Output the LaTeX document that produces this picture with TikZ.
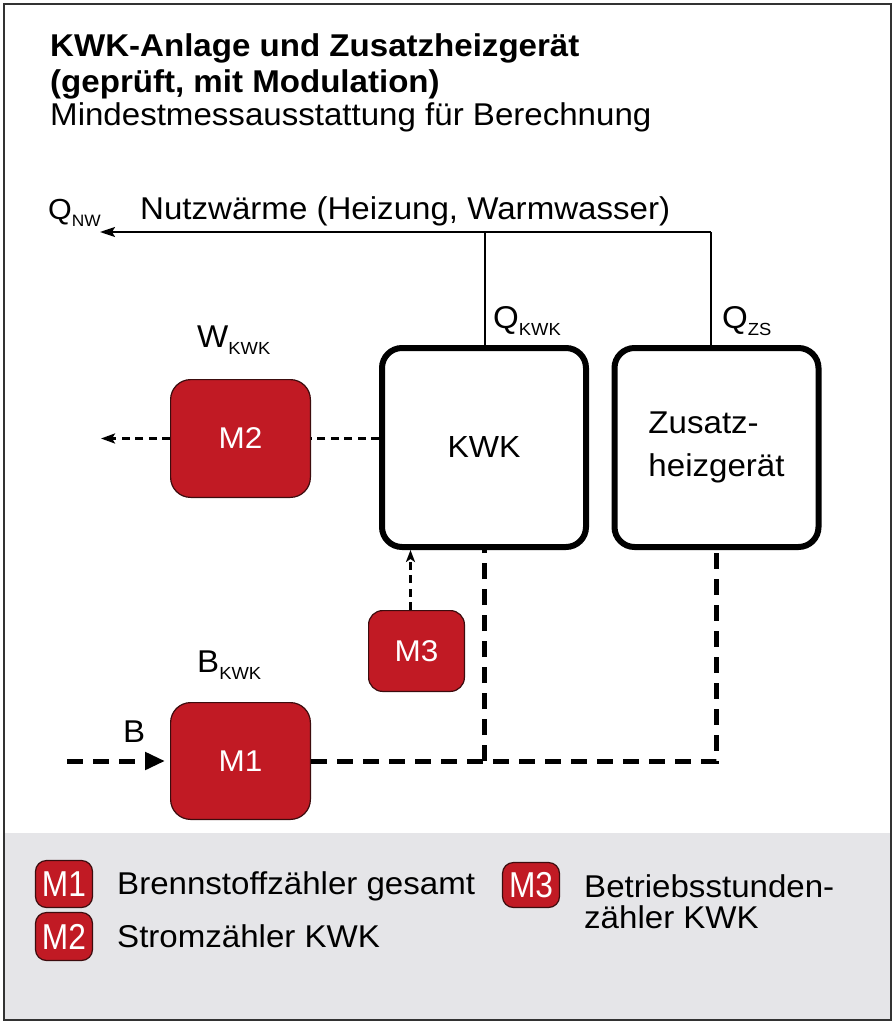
\documentclass[tikz,border=0pt]{standalone}
\usepackage{fontspec}
\setmainfont{Liberation Sans}[FakeStretch=1.05]
\newfontfamily\badgefont{Liberation Sans}[FakeStretch=0.88]
\usetikzlibrary{arrows.meta}
\definecolor{mred}{RGB}{193,26,36}
\definecolor{mborder}{RGB}{60,12,14}
\definecolor{legbg}{RGB}{229,229,232}
\definecolor{framecol}{RGB}{50,50,50}
\newcommand{\fsz}[1]{\fontsize{#1}{#1}\selectfont}
\newcommand{\lsub}[1]{\raisebox{-7pt}{\fsz{17.5}#1}}
\begin{document}
\begin{tikzpicture}[x=1pt,y=-1pt,
  txt/.style={inner sep=0pt, anchor=base west, font=\fsz{31.5}},
  ttl/.style={inner sep=0pt, anchor=base west, font=\bfseries\fsz{31.5}},
  meter/.style={draw=mborder, line width=1.2pt, fill=mred, rounded corners=20pt,
    text=white, font=\fsz{30}, inner sep=0pt},
  badge/.style={draw=mborder, line width=1.2pt, fill=mred, rounded corners=11pt,
    text=white, font=\badgefont\fsz{36}, inner sep=0pt, minimum width=57pt},
  unit/.style={draw=black, line width=6pt, rounded corners=20pt, fill=white,
    minimum width=204pt, minimum height=199pt, inner sep=0pt, font=\fsz{30.5}},
  heat/.style={line width=2pt, draw=black},
  thinflow/.style={line width=2.5pt, dash pattern=on 8pt off 5.5pt},
  fuel/.style={line width=5pt, dash pattern=on 16pt off 10pt},
]
\useasboundingbox (0,0) rectangle (895,1024);
% frame and legend background
\fill[legbg] (4,833) rectangle (891,1020);
\draw[framecol, line width=2.2pt] (4,4) rectangle (891,1020);

% title
\node[ttl] (t1) at (50,57) {KWK-Anlage und Zusatzheizgerät};
\node[ttl] (t2) at (50,93) {(geprüft, mit Modulation)};
\node[txt] (t3) at (50,126) {Mindestmessausstattung für Berechnung};

% units
\node[unit] (kwk) at (484,447.5) {KWK};
\node[unit, align=left, font=\fontsize{31.5}{43}\selectfont] (zs) at (716.5,447.5) {Zusatz-\\heizgerät};

% meters
\node[meter, minimum width=139.8pt, minimum height=117.8pt] (m2) at (240.5,438.5) {M2};
\node[meter, minimum width=95.8pt, minimum height=80.8pt, rounded corners=14pt] (m3) at (416.5,651) {M3};
\node[meter, minimum width=139.8pt, minimum height=116.8pt] (m1) at (240.5,761) {M1};

% labels
\node[txt, font=\fsz{29}] (qnw) at (48,219) {Q\raisebox{-7pt}{\fsz{16.5}NW}};
\node[txt] (nutz) at (140,219) {Nutzwärme (Heizung, Warmwasser)};
\node[txt] (qkwk) at (493,328) {Q\lsub{KWK}};
\node[txt] (qzs) at (722,328) {Q\lsub{ZS}};
\node[txt] (wkwk) at (197,347) {W\lsub{KWK}};
\node[txt] (bkwk) at (197,672) {B\lsub{KWK}};
\node[txt] (blab) at (123,742) {B};

% heat flows
\coordinate (jK) at (485,232);
\coordinate (jZ) at (711,232);
\coordinate (nwtip) at (100,232);
\draw[heat,-{Stealth[length=15pt,width=10pt,inset=3pt]}] (jZ) -- (nwtip);
\draw[heat] (jK) -- (jK |- kwk.north);
\draw[heat] (jZ) -- (jZ |- zs.north);

% electricity and operating hours
\coordinate (wtip) at (101,438.5);
\draw[thinflow] (kwk.west |- m2.east) -- (m2.east);
\draw[thinflow,-{Stealth[length=14pt,width=10pt,inset=3pt]}] (m2.west) -- (wtip);
\draw[thinflow,-{Stealth[length=12pt,width=9pt,inset=3pt]}] ([xshift=-6pt]m3.north) -- ([xshift=-6pt]m3.north |- kwk.south);

% fuel
\coordinate (bstart) at (67,761);
\draw[fuel,-{Triangle[length=20pt,width=17pt]}] (bstart) -- ([xshift=-5pt]m1.west);
\draw[fuel] (m1.east) -- (m1.east -| zs.south) -- (zs.south);
\draw[fuel] (m1.east -| kwk.south) -- (kwk.south);

% legend
\node[badge, minimum height=47pt] (l1) at (64,884) {M1};
\node[badge, minimum height=48pt] (l2) at (64,936.5) {M2};
\node[badge, minimum height=45pt] (l3) at (531,885) {M3};
\node[txt] (lt1) at (117,894) {Brennstoffzähler gesamt};
\node[txt] (lt2) at (117,947) {Stromzähler KWK};
\node[txt] (lt3) at (584,897) {Betriebsstunden-};
\node[txt] (lt4) at (584,928) {zähler KWK};
\end{tikzpicture}
\end{document}
